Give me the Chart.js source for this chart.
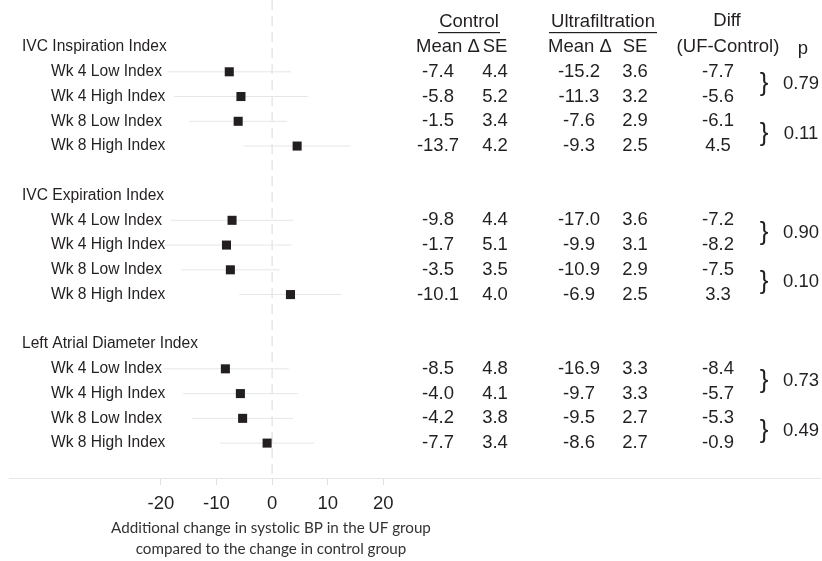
<!DOCTYPE html>
<html>
<head>
<meta charset="utf-8">
<script src="https://cdn.jsdelivr.net/npm/chart.js@4"></script>
<style>
  body { margin: 0; background: #fff; }
  canvas { display: block; }
</style>
</head>
<body>
<canvas id="myChart" width="822" height="561"></canvas>
<script>
'use strict';

// groups and the rows under them
var groups = ['IVC Inspiration Index', 'IVC Expiration Index', 'Left Atrial Diameter Index'];
var rowLabels = ['Wk 4 Low Index', 'Wk 4 High Index', 'Wk 8 Low Index', 'Wk 8 High Index'];

// table values, 12 rows (3 groups x 4 rows)
var ctrlMean = ['-7.4', '-5.8', '-1.5', '-13.7', '-9.8', '-1.7', '-3.5', '-10.1', '-8.5', '-4.0', '-4.2', '-7.7'];
var ctrlSE   = ['4.4', '5.2', '3.4', '4.2', '4.4', '5.1', '3.5', '4.0', '4.8', '4.1', '3.8', '3.4'];
var ufMean   = ['-15.2', '-11.3', '-7.6', '-9.3', '-17.0', '-9.9', '-10.9', '-6.9', '-16.9', '-9.7', '-9.5', '-8.6'];
var ufSE     = ['3.6', '3.2', '2.9', '2.5', '3.6', '3.1', '2.9', '2.5', '3.3', '3.3', '2.7', '2.7'];
var diff     = [-7.7, -5.6, -6.1, 4.5, -7.2, -8.2, -7.5, 3.3, -8.4, -5.7, -5.3, -0.9];
// CI ends
var ciLow    = [-18.8, -17.6, -14.9, -5.1, -18.3, -19.9, -16.4, -5.9, -19.8, -16.0, -14.4, -9.4];
var ciHigh   = [3.4, 6.4, 2.7, 14.1, 3.9, 3.5, 1.4, 12.5, 3.0, 4.6, 3.8, 7.6];
// one p per pair of rows
var pValues  = ['0.79', '0.11', '0.90', '0.10', '0.73', '0.49'];
var xTicks   = [-20, -10, 0, 10, 20];

// y position (row index) of each group header and data row
function headerIdx(g) { return g * 6; }
function rowIdx(i) { return Math.floor(i / 4) * 6 + 1 + (i % 4); }

var FONT = '"Liberation Sans", Arial, sans-serif';

var points = diff.map(function(d, i) { return { x: d, y: rowIdx(i) }; });

var datasets = [{
  type: 'scatter',
  data: points,
  pointStyle: 'rect',
  pointRadius: 6.4,
  pointBorderWidth: 0,
  backgroundColor: '#231f20',
  order: 0
}];

diff.forEach(function(d, i) {
  datasets.push({
    type: 'line',
    data: [{ x: ciLow[i], y: rowIdx(i) }, { x: ciHigh[i], y: rowIdx(i) }],
    borderColor: '#e6e6e6',
    borderWidth: 1,
    pointRadius: 0,
    order: 1
  });
});

// dashed no-effect line
datasets.push({
  type: 'line',
  data: [{ x: 0, y: -1.9 }, { x: 0, y: 17.41 }],
  borderColor: '#dadada',
  borderWidth: 1,
  borderDash: [10, 6],
  pointRadius: 0,
  order: 2
});

var tablePlugin = {
  id: 'forestTable',
  afterDraw: function(chart) {
    var ctx = chart.ctx;
    var y = chart.scales.y;
    ctx.save();
    ctx.fillStyle = '#231f20';
    ctx.textBaseline = 'middle';

    // left labels
    ctx.font = '15.6px ' + FONT;
    ctx.textAlign = 'left';
    groups.forEach(function(g, k) {
      ctx.fillText(g, 22, y.getPixelForValue(headerIdx(k)));
    });
    diff.forEach(function(d, i) {
      ctx.fillText(rowLabels[i % 4], 51, y.getPixelForValue(rowIdx(i)));
    });

    // column headers
    ctx.font = '18.5px ' + FONT;
    var hy = y.getPixelForValue(0);
    ctx.textAlign = 'center';
    ctx.fillText('Control', 469, 22);
    ctx.fillText('Ultrafiltration', 603, 22);
    ctx.fillText('Diff', 727, 21);
    ctx.fillText('(UF-Control)', 728, hy);
    ctx.fillText('p', 803, hy + 2);
    ctx.fillRect(438, 32, 62, 1.2);
    ctx.fillRect(549, 32, 108, 1.2);
    ctx.textAlign = 'left';
    ctx.fillText('Mean \u0394', 416, hy);
    ctx.fillText('Mean \u0394', 548, hy);
    ctx.textAlign = 'center';
    ctx.fillText('SE', 495, hy);
    ctx.fillText('SE', 635, hy);

    // values
    diff.forEach(function(d, i) {
      var py = y.getPixelForValue(rowIdx(i));
      ctx.fillText(ctrlMean[i], 438, py);
      ctx.fillText(ctrlSE[i], 495, py);
      ctx.fillText(ufMean[i], 579, py);
      ctx.fillText(ufSE[i], 635, py);
      ctx.fillText(d.toFixed(1), 718, py);
    });

    // braces and p values
    pValues.forEach(function(p, k) {
      var first = Math.floor(k / 2) * 4 + (k % 2) * 2;
      var py = (y.getPixelForValue(rowIdx(first)) + y.getPixelForValue(rowIdx(first + 1))) / 2;
      ctx.font = '26px ' + FONT;
      ctx.fillText('}', 764, py);
      ctx.font = '18.5px ' + FONT;
      ctx.fillText(p, 801, py);
    });

    // axis title
    ctx.fillStyle = '#333';
    ctx.font = '15.2px Lato, "Open Sans", sans-serif';
    ctx.fillText('Additional change in systolic BP in the UF group', 271, 528);
    ctx.fillText('compared to the change in control group', 271, 549);
    ctx.restore();
  }
};

var chart = new Chart(document.getElementById('myChart').getContext('2d'), {
  type: 'scatter',
  data: { datasets: datasets },
  options: {
    responsive: false,
    animation: false,
    layout: { autoPadding: false, padding: { left: 9, right: 2, top: 0, bottom: 0 } },
    plugins: { legend: { display: false }, tooltip: { enabled: false } },
    scales: {
      x: {
        type: 'linear',
        min: -47.3,
        max: 98.5,
        afterBuildTicks: function(scale) {
          scale.ticks = xTicks.map(function(v) { return { value: v }; });
        },
        afterFit: function(scale) { scale.height = 83; },
        grid: {
          drawOnChartArea: false,
          drawTicks: true,
          tickLength: 7,
          color: '#e0e0e0'
        },
        border: { display: true, color: '#e6e6e6', width: 1 },
        ticks: {
          color: '#231f20',
          padding: 8,
          maxRotation: 0,
          autoSkip: false,
          font: { family: FONT, size: 18.5 }
        }
      },
      y: {
        type: 'linear',
        display: false,
        reverse: true,
        min: -1.9,
        max: 17.41
      }
    }
  },
  plugins: [tablePlugin]
});
</script>
</body>
</html>
